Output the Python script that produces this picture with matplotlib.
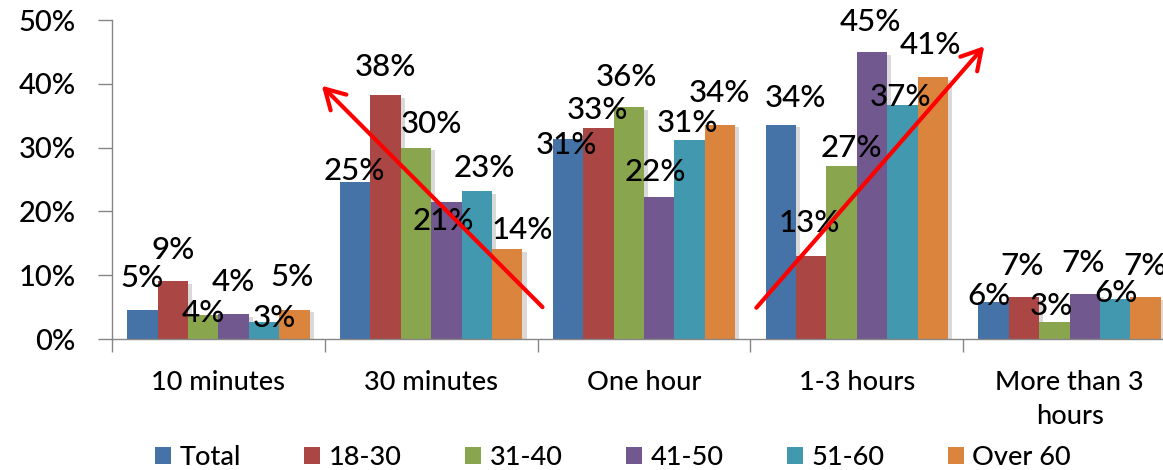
import matplotlib
matplotlib.use("Agg")
import matplotlib.pyplot as plt
import matplotlib.patheffects as pe
from matplotlib.patches import Patch
import numpy as np

plt.rcParams['font.family'] = ['Lato', 'DejaVu Sans']

categories = ['10 minutes', '30 minutes', 'One hour', '1-3 hours', 'More than 3\nhours']
groups = ['Total', '18-30', '31-40', '41-50', '51-60', 'Over 60']

total = [0.046, 0.246, 0.313, 0.336, 0.058]
age_18_30 = [0.091, 0.382, 0.330, 0.130, 0.066]
age_31_40 = [0.038, 0.300, 0.364, 0.271, 0.026]
age_41_50 = [0.039, 0.214, 0.223, 0.450, 0.070]
age_51_60 = [0.027, 0.232, 0.312, 0.367, 0.063]
over_60 = [0.046, 0.141, 0.336, 0.411, 0.066]
series = [total, age_18_30, age_31_40, age_41_50, age_51_60, over_60]

colors = ['#4572A7', '#AA4643', '#89A54E', '#71588F', '#4198AF', '#DB843D']

# label nudges in pixels (dx, dy), one row per series
label_shift = [
    [(0, 32), (-1, 11), (-2, -6), (15, 27), (-5, 6)],
    [(0, 31), (0, 28), (-1, 18), (-2, 33), (-2, 31)],
    [(0, 2), (15, 24), (-2, 30), (10, 18), (-3, 16)],
    [(0, 32), (-3, -19), (-4, 25), (-2, 30), (-2, 31)],
    [(10, 4), (8, 23), (-2, 17), (-2, 8), (1, 6)],
    [(-2, 33), (15, 19), (-1, 32), (-2, 32), (0, 31)],
]

fig = plt.figure(figsize=(11.63, 4.70), dpi=100)
ax = fig.add_axes([0.0963, 0.2787, 0.9149, 0.6787])

x = np.arange(len(categories))
w = 1 / 7
shadow = [pe.SimplePatchShadow(offset=(3, -2), alpha=0.15, shadow_rgbFace='black'), pe.Normal()]

for j, vals in enumerate(series):
    pos = x + (j - 2.5) * w
    bars = ax.bar(pos, vals, width=w, color=colors[j], zorder=2)
    for b in bars:
        b.set_path_effects(shadow)
    for k, v in enumerate(vals):
        dx, dy = label_shift[j][k]
        ax.annotate('{:.0%}'.format(v), (pos[k], v), xytext=(dx, dy),
                    textcoords='offset pixels', ha='center', va='center',
                    fontsize=22.5, fontweight='medium', color='black', zorder=4,
                    annotation_clip=False)

# trend arrows
arrow = dict(arrowstyle='->,head_length=0.7,head_width=0.4', lw=3, color='#FF0000',
             mutation_scale=20, shrinkA=0, shrinkB=0)
ax.annotate('', xy=(0.486, 0.397), xytext=(1.523, 0.050), arrowprops=arrow, zorder=5)
ax.annotate('', xy=(3.599, 0.459), xytext=(2.528, 0.049), arrowprops=arrow, zorder=5)

ax.set_xlim(-0.5, 4.5)
ax.set_ylim(0, 0.5)
ax.set_yticks(np.arange(0, 0.51, 0.1))
ax.set_yticklabels(['{:.0%}'.format(t) for t in np.arange(0, 0.51, 0.1)],
                   fontsize=21, fontweight='medium')
ax.tick_params(axis='y', length=10, width=1, color='#868686', pad=16)

ax.set_xticks(x)
ax.set_xticklabels(categories, fontsize=19.5, fontweight='medium', linespacing=1.45)
ax.set_xticks(np.arange(-0.5, 5, 1), minor=True)
ax.tick_params(axis='x', which='major', length=0, pad=22)
ax.tick_params(axis='x', which='minor', length=9, width=1, color='#868686')

for s in ['top', 'right']:
    ax.spines[s].set_visible(False)
for s in ['left', 'bottom']:
    ax.spines[s].set_color('#868686')
    ax.spines[s].set_linewidth(1)

handles = [Patch(facecolor=c, edgecolor='none') for c in colors]
fig.legend(handles, groups, loc='center', bbox_to_anchor=(0.527, 0.027), ncol=6,
           frameon=False, prop={'size': 19.5, 'weight': 'medium'},
           handlelength=0.6, handleheight=0.6,
           handletextpad=0.3, columnspacing=2.35, borderaxespad=0)

fig.savefig('out.png', dpi=100)
